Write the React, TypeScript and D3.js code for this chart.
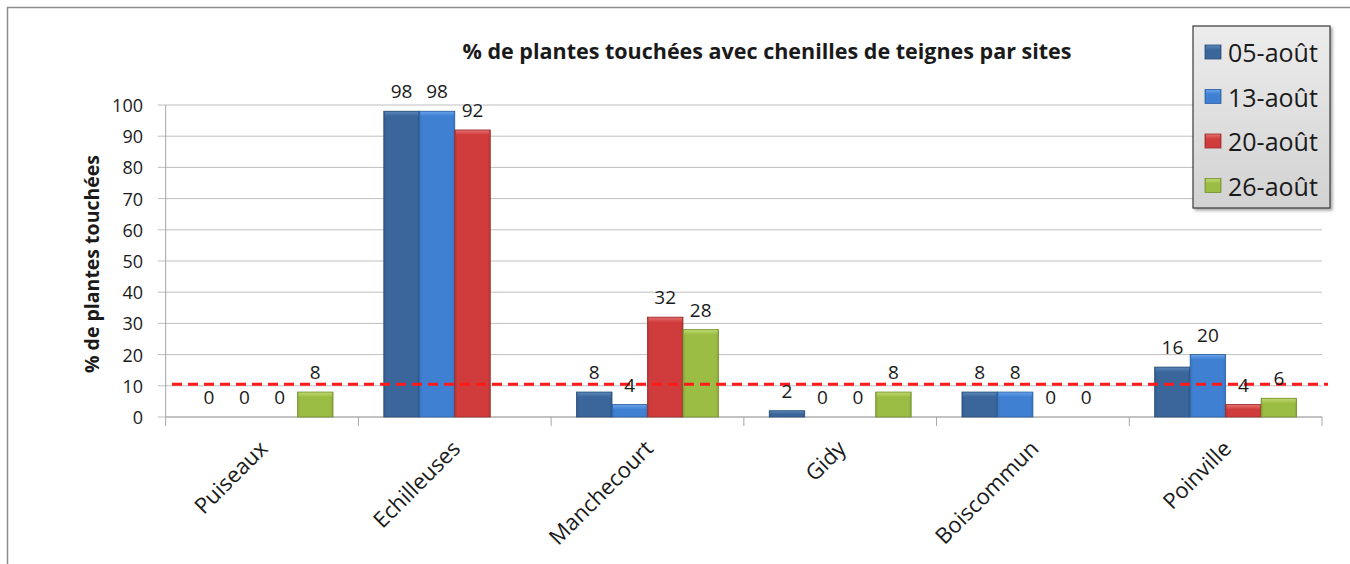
import React from 'react';
import * as d3 from 'd3';

// Sites et séries
const categories = ['Puiseaux', 'Echilleuses', 'Manchecourt', 'Gidy', 'Boiscommun', 'Poinville'];
const seriesNames = ['05-août', '13-août', '20-août', '26-août'];
const serie0508 = [0, 98, 8, 2, 8, 16];
const serie1308 = [0, 98, 4, 0, 8, 20];
const serie2008 = [0, 92, 32, 0, 0, 4];
const serie2608: (number | null)[] = [8, null, 28, 8, 0, 6];
const yTicks = [0, 10, 20, 30, 40, 50, 60, 70, 80, 90, 100];
const seuil = 10.5;

const seriesValues = [serie0508, serie1308, serie2008, serie2608];

const COLORS = {
  base: ['#3a669b', '#3f80d2', '#d03c3c', '#9cbd44'],
  light: ['#5b88bd', '#6aa3ec', '#e67272', '#c0db72'],
  dark: ['#2b4c75', '#2f609f', '#9c2c2c', '#748e31'],
  grid: '#bfbfbf',
  axis: '#a6a6a6',
  text: '#1a1a1a',
  frame: '#8c8c8c',
};

const FONT = "'Open Sans', 'DejaVu Sans', sans-serif";

const W = 1350;
const H = 564;
const plot = { left: 165.7, right: 1322, top: 105, bottom: 417 };

function Bar({ x, y, w, h, i }: { x: number; y: number; w: number; h: number; i: number }) {
  if (h <= 0) return null;
  const bev = Math.min(5, h / 2);
  return (
    <g>
      <rect x={x} y={y} width={w} height={h} fill={COLORS.base[i]} />
      <rect x={x} y={y} width={w} height={h} fill={`url(#side-${i})`} />
      <rect x={x + 1} y={y} width={w - 2} height={bev} fill={`url(#top-${i})`} />
      <rect x={x} y={y} width={w} height={h} fill="none" stroke={COLORS.dark[i]} strokeWidth={0.8} />
    </g>
  );
}

export default function App() {
  const y = d3.scaleLinear().domain([0, 100]).range([plot.bottom, plot.top]);
  const x0 = d3.scaleBand<string>().domain(categories).range([plot.left, plot.right]).padding(0);
  const x1 = d3.scaleBand<string>().domain(seriesNames).range([0, x0.bandwidth()])
    .paddingInner(0).paddingOuter(0.716);

  const bw = x1.bandwidth();

  return (
    <svg width={W} height={H} style={{ position: 'absolute', left: 0, top: 0, background: '#fff' }}
      fontFamily={FONT}>
      <defs>
        {seriesNames.map((_, i) => (
          <React.Fragment key={i}>
            <linearGradient id={`top-${i}`} x1="0" y1="0" x2="0" y2="1">
              <stop offset="0%" stopColor={COLORS.light[i]} />
              <stop offset="100%" stopColor={COLORS.base[i]} />
            </linearGradient>
            <linearGradient id={`side-${i}`} x1="0" y1="0" x2="1" y2="0">
              <stop offset="0%" stopColor={COLORS.dark[i]} stopOpacity={0.45} />
              <stop offset="8%" stopColor={COLORS.dark[i]} stopOpacity={0} />
              <stop offset="92%" stopColor={COLORS.dark[i]} stopOpacity={0} />
              <stop offset="100%" stopColor={COLORS.dark[i]} stopOpacity={0.45} />
            </linearGradient>
          </React.Fragment>
        ))}
        <linearGradient id="legend-bg" x1="0" y1="0" x2="0" y2="1">
          <stop offset="0%" stopColor="#ececec" />
          <stop offset="100%" stopColor="#d2d2d2" />
        </linearGradient>
        <filter id="shadow" x="-10%" y="-10%" width="130%" height="130%">
          <feDropShadow dx="2" dy="2" stdDeviation="1.5" floodColor="#000" floodOpacity="0.35" />
        </filter>
      </defs>

      {/* cadre */}
      <rect x={7.5} y={7.5} width={1345} height={570} fill="none" stroke={COLORS.frame} strokeWidth={1.5} />

      {/* titre */}
      <text x={767} y={59} textAnchor="middle" fontSize={21.5} fontWeight="bold" fill={COLORS.text}>
        % de plantes touchées avec chenilles de teignes par sites
      </text>

      {/* grille + axe Y */}
      {yTicks.map(t => (
        <g key={t}>
          <line x1={plot.left - 8} x2={plot.right} y1={y(t)} y2={y(t)} stroke={COLORS.grid} strokeWidth={1} />
          <text x={143} y={y(t)} textAnchor="end" dominantBaseline="central" fontSize={18} fill={COLORS.text}>
            {t}
          </text>
        </g>
      ))}
      <line x1={plot.left} x2={plot.left} y1={plot.top} y2={plot.bottom} stroke={COLORS.axis} />
      <line x1={plot.left} x2={plot.right} y1={plot.bottom} y2={plot.bottom} stroke={COLORS.axis} />
      {[...categories.map(c => x0(c)!), plot.right].map((v, i) => (
        <line key={i} x1={v} x2={v} y1={plot.bottom} y2={plot.bottom + 9} stroke={COLORS.axis} />
      ))}

      <text transform={`translate(99,264) rotate(-90)`} textAnchor="middle" fontSize={19.5}
        fontWeight="bold" fill={COLORS.text}>
        % de plantes touchées
      </text>

      {/* barres */}
      {categories.map((c, ci) => (
        <g key={c}>
          {seriesNames.map((s, si) => {
            const v = seriesValues[si][ci];
            if (v === null || v === undefined) return null;
            const bx = x0(c)! + x1(s)!;
            return <Bar key={s} x={bx} y={y(v)} w={bw} h={plot.bottom - y(v)} i={si} />;
          })}
        </g>
      ))}

      {/* seuil */}
      <line x1={172} x2={1328} y1={y(seuil)} y2={y(seuil)} stroke="#ff1a1a" strokeWidth={3}
        strokeDasharray="10,6" />

      {/* étiquettes */}
      {categories.map((c, ci) => (
        <g key={c}>
          {seriesNames.map((s, si) => {
            const v = seriesValues[si][ci];
            if (v === null || v === undefined) return null;
            const cx = x0(c)! + x1(s)! + bw / 2;
            return (
              <text key={s} x={cx} y={y(v) - 13} textAnchor="middle" fontSize={19} fill={COLORS.text}>
                {v}
              </text>
            );
          })}
        </g>
      ))}

      {/* axe X */}
      {categories.map(c => {
        const cx = x0(c)! + x0.bandwidth() / 2;
        return (
          <text key={c} transform={`translate(${cx + 7},${plot.bottom + 33}) rotate(-45)`}
            textAnchor="end" fontSize={22} fill={COLORS.text}>
            {c}
          </text>
        );
      })}

      {/* légende */}
      <g>
        <rect x={1193} y={26} width={137} height={182} fill="url(#legend-bg)" stroke="#3a3a3a"
          strokeWidth={1.2} filter="url(#shadow)" />
        {seriesNames.map((s, i) => {
          const ly = 52 + i * 44.5;
          return (
            <g key={s}>
              <Bar x={1205} y={ly - 7} w={16} h={14} i={i} />
              <text x={1228} y={ly} dominantBaseline="central" fontSize={25} fill={COLORS.text}>
                {s}
              </text>
            </g>
          );
        })}
      </g>
    </svg>
  );
}
